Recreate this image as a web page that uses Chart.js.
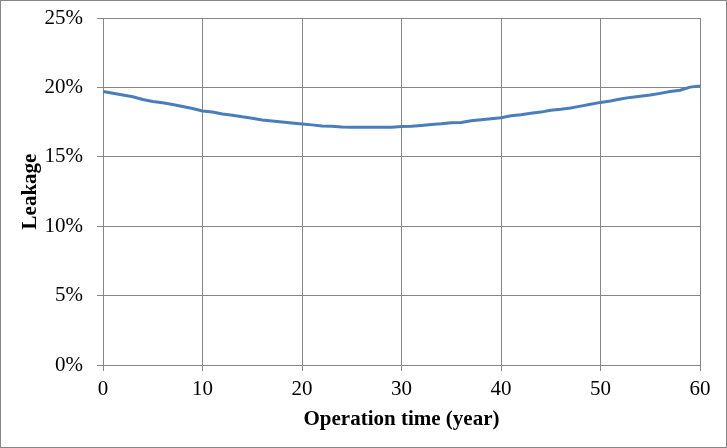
<!doctype html>
<html lang="en">
<head>
  <meta charset="utf-8">
  <title>Leakage vs operation time</title>
  <script src="https://cdn.jsdelivr.net/npm/chart.js"></script>
  <style>
    html, body { margin: 0; padding: 0; background: #fff; }
    #wrap { width: 727px; height: 448px; }
  </style>
</head>
<body>
  <div id="wrap"><canvas id="leakChart" width="727" height="448"></canvas></div>
  <script>
    // data
    const years = [];
    for (let i = 0; i <= 60; i++) years.push(i);
    const leakage = [
      19.70, 19.58, 19.45, 19.33, 19.13, 18.98, 18.90, 18.77, 18.63, 18.48,
      18.30, 18.22, 18.08, 18.00, 17.88, 17.78, 17.65, 17.58, 17.51, 17.44,
      17.37, 17.30, 17.22, 17.20, 17.14, 17.13, 17.13, 17.13, 17.13, 17.13,
      17.19, 17.20, 17.26, 17.32, 17.38, 17.46, 17.47, 17.60, 17.67, 17.74,
      17.82, 17.95, 18.03, 18.14, 18.22, 18.36, 18.43, 18.52, 18.65, 18.78,
      18.92, 19.02, 19.16, 19.28, 19.36, 19.45, 19.57, 19.70, 19.80, 20.02,
      20.10
    ];
    const xTicks = [0, 10, 20, 30, 40, 50, 60];
    const yTicks = [0, 5, 10, 15, 20, 25];

    const gridColor = '#868686';
    const fontFamily = '"Liberation Serif", "Times New Roman", serif';

    const frame = {
      id: 'frame',
      afterDraw(chart) {
        const c = chart.ctx;
        c.save();
        c.strokeStyle = gridColor;
        c.lineWidth = 1;
        c.strokeRect(0.5, 0.5, chart.width - 1, chart.height - 1);
        c.restore();
      }
    };

    const ctx = document.getElementById('leakChart');
    new Chart(ctx, {
      type: 'line',
      data: {
        datasets: [{
          label: 'Leakage',
          data: years.map((y, i) => ({ x: y, y: leakage[i] })),
          borderColor: '#4a7ebb',
          borderWidth: 3,
          pointRadius: 0,
          tension: 0,
          fill: false
        }]
      },
      options: {
        responsive: false,
        animation: false,
        layout: { padding: { top: 18, right: 27, left: 0, bottom: 0 } },
        plugins: {
          legend: { display: false },
          tooltip: { enabled: false }
        },
        scales: {
          x: {
            type: 'linear',
            min: 0,
            max: 60,
            afterBuildTicks: s => { s.ticks = xTicks.map(v => ({ value: v })); },
            afterFit: s => { s.height = 83; s.paddingLeft = 0; s.paddingRight = 0; },
            grid: { color: gridColor, tickLength: 6 },
            border: { color: gridColor },
            ticks: {
              color: '#000',
              padding: 6,
              maxRotation: 0,
              font: { family: fontFamily, size: 21 }
            },
            title: {
              display: true,
              text: 'Operation time (year)',
              color: '#000',
              padding: { top: 4, bottom: 16 },
              font: { family: fontFamily, size: 21, weight: 'bold' }
            }
          },
          y: {
            min: 0,
            max: 25,
            afterBuildTicks: s => { s.ticks = yTicks.map(v => ({ value: v })); },
            afterFit: s => { s.width = 103; s.paddingTop = 0; s.paddingBottom = 0; },
            grid: { color: gridColor, tickLength: 6 },
            border: { color: gridColor },
            ticks: {
              color: '#000',
              padding: 14,
              font: { family: fontFamily, size: 21 },
              callback: v => v + '%'
            },
            title: {
              display: true,
              text: 'Leakage',
              color: '#000',
              padding: { top: 18, bottom: 6 },
              font: { family: fontFamily, size: 21, weight: 'bold' }
            }
          }
        }
      },
      plugins: [frame]
    });
  </script>
</body>
</html>
